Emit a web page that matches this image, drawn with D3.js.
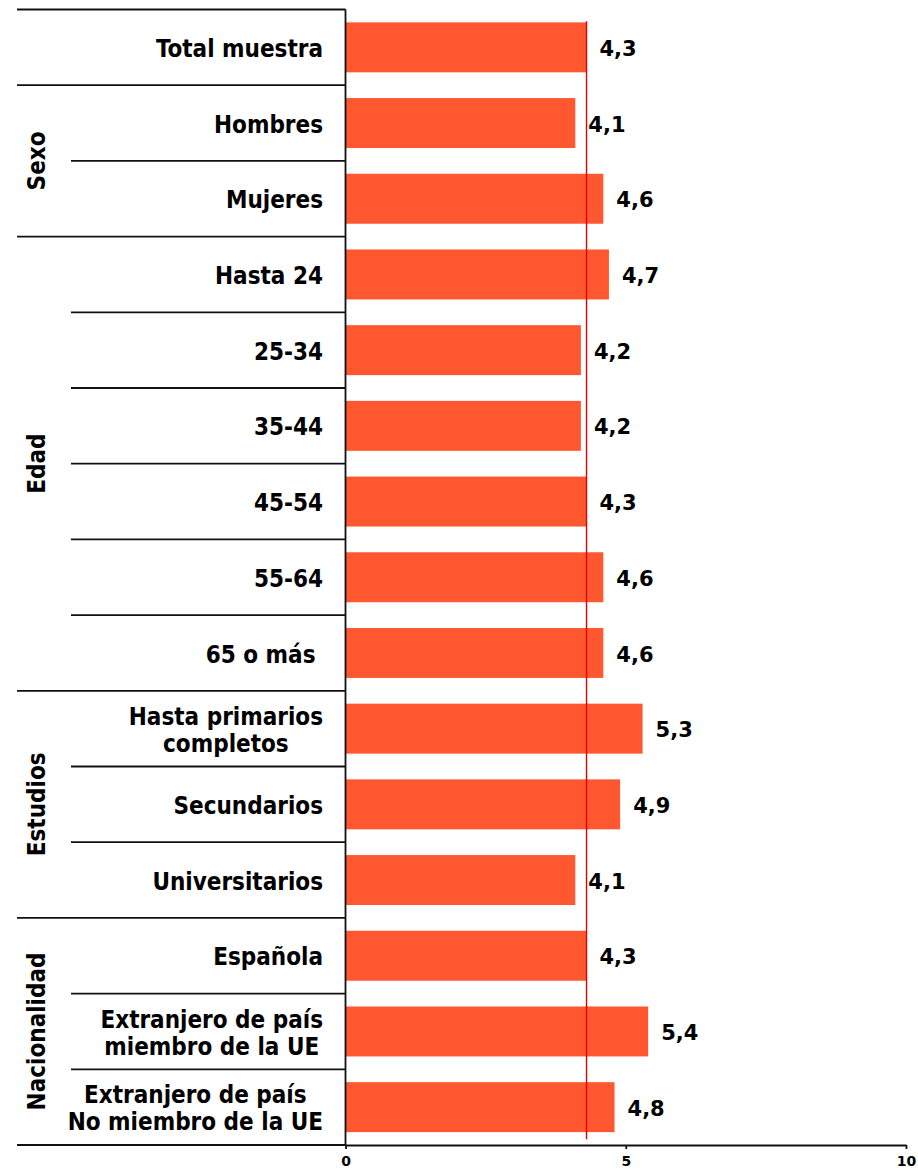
<!DOCTYPE html>
<html>
<head>
<meta charset="utf-8">
<script src="https://cdn.jsdelivr.net/npm/d3@7"></script>
<style>
  html, body { margin: 0; padding: 0; background: #fff; }
  svg { display: block; }
  .cat, .grp { font-family: "DejaVu Sans Condensed", "DejaVu Sans", sans-serif; font-stretch: condensed; font-weight: bold; font-size: 24px; fill: #000; white-space: pre; }
  .val { font-family: "DejaVu Sans", sans-serif; font-weight: bold; font-size: 21px; fill: #000; }
  .axis text { font-family: "DejaVu Sans", sans-serif; font-weight: bold; font-size: 14px; fill: #000; }
</style>
</head>
<body>
<svg id="chart" width="918" height="1172"></svg>
<script>
// Row labels (lines separated by "\n") and their mean scores
const categories = [
  "Total muestra",
  "Hombres", "Mujeres",
  "Hasta 24", "25-34", "35-44", "45-54", "55-64", "65 o más ",
  "Hasta primarios\ncompletos", "Secundarios", "Universitarios",
  "Española", "Extranjero de país\nmiembro de la UE", "Extranjero de país\nNo miembro de la UE"
];
const values = [4.3, 4.1, 4.6, 4.7, 4.2, 4.2, 4.3, 4.6, 4.6, 5.3, 4.9, 4.1, 4.3, 5.4, 4.8];

// Grouping of the rows (sizes follow the order of categories)
const groupNames = ["", "Sexo", "Edad", "Estudios", "Nacionalidad"];
const groupSizes = [1, 2, 6, 3, 3];

// Reference line (total sample) and axis ticks
const referenceValue = 4.3;
const xTicks = [0, 5, 10];
const xDomain = [0, 10];

const svg = d3.select("#chart");
const plotTop = 9.5, plotBottom = 1145;
const x = d3.scaleLinear().domain(xDomain).range([345.5, 906]);
const y = d3.scaleBand().domain(d3.range(categories.length)).range([plotTop, plotBottom])
  .paddingInner(0.34).paddingOuter(0.17);
const step = y.step();
const rowTop = i => y(i) - y.paddingInner() * step / 2;
const fmt = v => d3.format(".1f")(v).replace(".", ",");
const ink = "#111";

// Row separators: full width at group boundaries, shorter inside groups
const groupStarts = [];
let acc = 0;
groupSizes.forEach(s => { groupStarts.push(acc); acc += s; });
const seps = d3.range(categories.length + 1).map(i => ({
  y: i === categories.length ? plotBottom : rowTop(i),
  major: i === categories.length || groupStarts.includes(i)
}));
svg.append("g").selectAll("line").data(seps).join("line")
  .attr("x1", d => d.major ? 17 : 71).attr("x2", x(0))
  .attr("y1", d => d.y).attr("y2", d => d.y)
  .attr("stroke", ink).attr("stroke-width", 1.8);

// Bars
svg.append("g").selectAll("rect").data(values).join("rect")
  .attr("x", x(0)).attr("y", (d, i) => y(i))
  .attr("width", d => x(d) - x(0)).attr("height", y.bandwidth())
  .attr("fill", "#ff5730");

// Vertical axis line
svg.append("line").attr("x1", x(0)).attr("x2", x(0)).attr("y1", plotTop).attr("y2", plotBottom)
  .attr("stroke", ink).attr("stroke-width", 1.8);

// Reference line at the total-sample mean
svg.append("line")
  .attr("x1", x(referenceValue)).attr("x2", x(referenceValue))
  .attr("y1", y(0) - 1).attr("y2", y(categories.length - 1) + y.bandwidth() + 7)
  .attr("stroke", "#e00000").attr("stroke-width", 1.4);

// Value labels
svg.append("g").selectAll("text").data(values).join("text")
  .attr("class", "val")
  .attr("x", d => x(d) + 13)
  .attr("y", (d, i) => y(i) + y.bandwidth() / 2 + 1)
  .attr("dy", "0.36em")
  .text(d => fmt(d));

// Category labels (multi-line labels are centred on their widest line)
const labelRight = 323;
const lineH = 27;
const catG = svg.append("g");
categories.forEach((c, i) => {
  const lines = c.split("\n");
  const cy = y(i) + y.bandwidth() / 2 + 1;
  const t = catG.append("text").attr("class", "cat");
  lines.forEach((ln, k) => {
    t.append("tspan").attr("y", cy + (k - (lines.length - 1) / 2) * lineH).attr("dy", "0.36em").text(ln);
  });
  if (lines.length === 1) {
    t.attr("text-anchor", "end").selectAll("tspan").attr("x", labelRight);
  } else {
    const widths = t.selectAll("tspan").nodes().map(n => n.getComputedTextLength());
    const w = d3.max(widths);
    t.attr("text-anchor", "middle").selectAll("tspan").attr("x", labelRight - w / 2);
  }
});

// Group labels, rotated and centred on their rows
svg.append("g").selectAll("text").data(groupNames.map((n, g) => ({ n, g }))).join("text")
  .attr("class", "grp")
  .attr("text-anchor", "middle")
  .attr("transform", d => {
    const s = groupStarts[d.g], e = s + groupSizes[d.g];
    const yEnd = e === categories.length ? plotBottom : rowTop(e);
    const cy = (rowTop(s) + yEnd) / 2;
    return `translate(36,${cy}) rotate(-90)`;
  })
  .attr("dy", "0.36em")
  .text(d => d.n);

// Bottom axis
const axis = d3.axisBottom(x).tickValues(xTicks).tickSize(4).tickSizeOuter(0).tickPadding(7)
  .tickFormat(d3.format("d"));
const ax = svg.append("g").attr("class", "axis").attr("transform", `translate(0,${plotBottom})`).call(axis);
ax.select(".domain").attr("stroke", ink).attr("stroke-width", 1.8);
ax.selectAll(".tick line").attr("stroke", ink).attr("stroke-width", 1.8);
</script>
</body>
</html>
